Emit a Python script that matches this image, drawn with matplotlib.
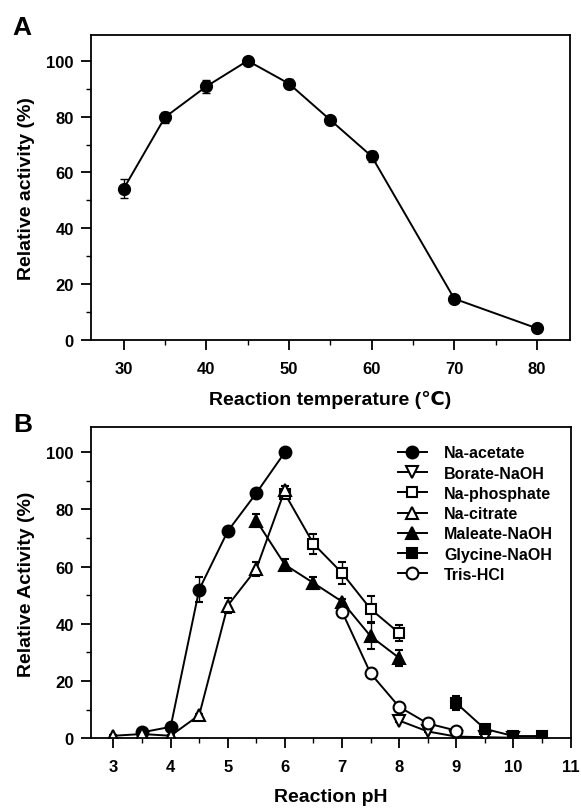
import numpy as np
import matplotlib
matplotlib.use("Agg")
import matplotlib.pyplot as plt
from matplotlib.ticker import MultipleLocator

plt.rcParams['font.family'] = ['Liberation Sans', 'DejaVu Sans']
plt.rcParams['font.weight'] = 'bold'

# panel A: temperature
temp = [30, 35, 40, 45, 50, 55, 60, 70, 80]
temp_act = [54.2, 79.8, 90.8, 100, 91.8, 78.8, 65.8, 14.8, 4.2]
temp_err = [3.3, 2.0, 2.2, 0.8, 1.5, 1.0, 2.0, 1.0, 0.8]

# panel B: pH, one set per buffer
acetate_ph = [3.5, 4, 4.5, 5, 5.5, 6]
acetate_y = [2.1, 4.0, 52.0, 72.4, 85.7, 100]
acetate_err = [0.5, 0.5, 4.3, 1.2, 1.0, 0.5]

borate_ph = [8, 8.5, 9, 9.5, 10]
borate_y = [6.2, 2.4, 0.6, 0.4, 0.2]
borate_err = [0.5, 0.3, 0.2, 0.2, 0.1]

phosphate_ph = [6, 6.5, 7, 7.5, 8]
phosphate_y = [85.5, 68.0, 57.8, 45.2, 36.8]
phosphate_err = [1.0, 3.5, 3.8, 4.7, 2.8]

citrate_ph = [3, 3.5, 4, 4.5, 5, 5.5, 6]
citrate_y = [0.9, 1.5, 0.9, 8.1, 46.4, 59.2, 86.8]
citrate_err = [0.2, 0.3, 0.2, 0.5, 2.5, 2.5, 1.5]

maleate_ph = [5.5, 6, 6.5, 7, 7.5, 8]
maleate_y = [76.1, 60.7, 54.3, 47.8, 35.7, 28.1]
maleate_err = [2.4, 2.0, 2.2, 1.0, 4.5, 2.8]

glycine_ph = [9, 9.5, 10, 10.5]
glycine_y = [12.3, 3.3, 0.8, 0.8]
glycine_err = [2.5, 0.4, 0.2, 0.2]

tris_ph = [7, 7.5, 8, 8.5, 9]
tris_y = [44.3, 22.7, 11.0, 5.2, 2.7]
tris_err = [0.8, 0.6, 0.5, 0.4, 0.3]

fig = plt.figure(figsize=(5.81, 8.12), dpi=100)
axA = fig.add_axes([0.156, 0.580, 0.825, 0.3756])
axB = fig.add_axes([0.156, 0.0895, 0.826, 0.383])

ekw = dict(color='black', lw=1.4, capsize=3.2, elinewidth=1.0, capthick=1.0)

axA.errorbar(temp, temp_act, yerr=temp_err, marker='o', ms=8.5, mfc='black',
             mec='black', **ekw)
axA.set_xlim(26, 84)
axA.set_ylim(0, 109.2)
axA.xaxis.set_major_locator(MultipleLocator(10))
axA.xaxis.set_minor_locator(MultipleLocator(5))
axA.yaxis.set_major_locator(MultipleLocator(20))
axA.yaxis.set_minor_locator(MultipleLocator(10))
axA.set_xlabel('Reaction temperature (\u2103)', fontsize=14, fontweight='bold', labelpad=10)
axA.set_ylabel('Relative activity (%)', fontsize=14, fontweight='bold', labelpad=8)

series = [
    ('Na-acetate', acetate_ph, acetate_y, acetate_err, 'o', 'black'),
    ('Borate-NaOH', borate_ph, borate_y, borate_err, 'v', 'white'),
    ('Na-phosphate', phosphate_ph, phosphate_y, phosphate_err, 's', 'white'),
    ('Na-citrate', citrate_ph, citrate_y, citrate_err, '^', 'white'),
    ('Maleate-NaOH', maleate_ph, maleate_y, maleate_err, '^', 'black'),
    ('Glycine-NaOH', glycine_ph, glycine_y, glycine_err, 's', 'black'),
    ('Tris-HCl', tris_ph, tris_y, tris_err, 'o', 'white'),
]
handles = []
for name, xs, ys, es, mk, fc in series:
    ms = 8.5 if mk in 'o^v' else 7.5
    c = axB.errorbar(xs, ys, yerr=es, marker=mk, ms=ms, mfc=fc, mec='black',
                     mew=1.5, **ekw)
    handles.append(c[0])

axB.set_xlim(2.6, 11)
axB.set_ylim(0, 108.7)
axB.xaxis.set_major_locator(MultipleLocator(1))
axB.xaxis.set_minor_locator(MultipleLocator(0.5))
axB.yaxis.set_major_locator(MultipleLocator(20))
axB.yaxis.set_minor_locator(MultipleLocator(10))
axB.set_xlabel('Reaction pH', fontsize=14, fontweight='bold', labelpad=10)
axB.set_ylabel('Relative Activity (%)', fontsize=14, fontweight='bold', labelpad=8)

leg = axB.legend(handles, [s[0] for s in series], loc='upper left',
                 bbox_to_anchor=(0.64, 0.942), frameon=False,
                 fontsize=11.5, handlelength=1.8, handletextpad=1.1,
                 labelspacing=0.33, borderpad=0, borderaxespad=0)
for t in leg.get_texts():
    t.set_fontweight('bold')

for ax in (axA, axB):
    for s in ax.spines.values():
        s.set_linewidth(1.3)
    ax.tick_params(which='major', direction='out', length=7, width=1.3,
                   labelsize=12, pad=8)
    ax.tick_params(which='minor', direction='out', length=3.5, width=1.0)
    for lab in ax.get_xticklabels() + ax.get_yticklabels():
        lab.set_fontweight('bold')
    ax.tick_params(axis='y', pad=5)

fig.text(0.022, 0.965, 'A', fontsize=19, fontweight='bold', va='center')
fig.text(0.022, 0.477, 'B', fontsize=19, fontweight='bold', va='center')

fig.savefig('out.png', dpi=100)
